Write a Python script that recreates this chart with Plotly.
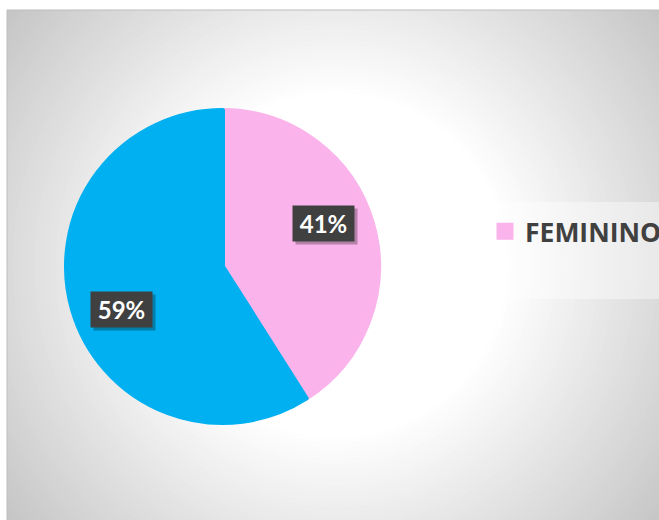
import math
import plotly.graph_objects as go

# ---- data ----
labels = ["FEMININO", "MASCULINO"]
values = [41, 59]
colors = ["#FBB3EB", "#00B0F0"]
pct_text = ["41%", "59%"]

W, H = 659, 520

def px_x(x):
    return x / W

def px_y(y):
    return 1 - y / H

# pie geometry (pixels)
CX, CY, R = 222.5, 266.5, 158.5
LINE_W = 5
r_dom = R - LINE_W / 2

fig = go.Figure()
fig.add_trace(go.Pie(
    labels=labels, values=values, sort=False, direction="clockwise", rotation=0,
    marker=dict(colors=colors, line=dict(color=colors, width=LINE_W)),
    textinfo="none", hoverinfo="label+percent",
    domain=dict(x=[px_x(CX - r_dom), px_x(CX + r_dom)],
                y=[px_y(CY + r_dom), px_y(CY - r_dom)]),
))

# ---- background: radial gradient approximated with concentric circles ----
shapes = []
AX0, AY0 = 7, 10
shapes.append(dict(type="rect", xref="paper", yref="paper", layer="below",
                   x0=px_x(AX0), x1=px_x(W + 20), y0=px_y(H + 20), y1=px_y(AY0),
                   fillcolor="rgb(196,196,196)", line=dict(width=0)))
GCX, GCY = 335, 265
r_out, r_in = 430, 172
steps = 48
for i in range(steps + 1):
    r = r_out - (r_out - r_in) * i / steps
    c = 255 - 0.235 * (r - r_in)
    c = int(max(196, min(255, round(c))))
    shapes.append(dict(type="circle", xref="paper", yref="paper", layer="below",
                       x0=px_x(GCX - r), x1=px_x(GCX + r),
                       y0=px_y(GCY + r), y1=px_y(GCY - r),
                       fillcolor=f"rgb({c},{c},{c})", line=dict(width=0)))
# white outer strips
shapes.append(dict(type="rect", xref="paper", yref="paper", layer="below",
                   x0=0, x1=1.05, y0=px_y(AY0), y1=1.05,
                   fillcolor="white", line=dict(width=0)))
shapes.append(dict(type="rect", xref="paper", yref="paper", layer="below",
                   x0=-0.05, x1=px_x(AX0), y0=-0.05, y1=1.05,
                   fillcolor="white", line=dict(width=0)))
# chart area edge
shapes.append(dict(type="rect", xref="paper", yref="paper", layer="below",
                   x0=px_x(AX0), x1=px_x(W + 20), y0=px_y(H + 20), y1=px_y(AY0),
                   fillcolor="rgba(0,0,0,0)", line=dict(color="#bdbdbd", width=1)))
# legend box
shapes.append(dict(type="rect", xref="paper", yref="paper", layer="below",
                   x0=px_x(479), x1=px_x(W + 30), y0=px_y(299), y1=px_y(202),
                   fillcolor="rgba(255,255,255,0.4)", line=dict(width=0)))

# ---- data labels (positions derived from data) ----
annotations = []
total = sum(values)
cum = 0
LABEL_ANGLE_SHIFT = -7
LABEL_R = 0.69 * R
for v, t in zip(values, pct_text):
    theta = math.radians(360 * (cum + v / 2) / total + LABEL_ANGLE_SHIFT)
    cum += v
    lx = CX + LABEL_R * math.sin(theta)
    ly = CY - LABEL_R * math.cos(theta)
    common = dict(x=px_x(lx), y=px_y(ly), xref="paper", yref="paper",
                  xanchor="center", yanchor="middle",
                  showarrow=False, width=61, height=35, borderpad=0)
    annotations.append(dict(text="", bgcolor="rgba(0,0,0,0.28)",
                            xshift=3, yshift=-3, **common))
    annotations.append(dict(text=t, bgcolor="#404040",
                            font=dict(family="Lato", size=24, color="white", weight="bold"),
                            **common))

fig.update_layout(
    width=W, height=H,
    margin=dict(l=0, r=0, t=0, b=0, autoexpand=False),
    paper_bgcolor="white",
    shapes=shapes, annotations=annotations,
    showlegend=True,
    legend=dict(orientation="h", x=px_x(485), xanchor="left",
                y=px_y(231.5), yanchor="middle",
                bgcolor="rgba(0,0,0,0)",
                font=dict(family="Open Sans", size=26.5, color="#404040", weight="bold")),
)

fig.write_html("out.html", config={"displayModeBar": False},
               post_script="document.body.style.margin='0';")
